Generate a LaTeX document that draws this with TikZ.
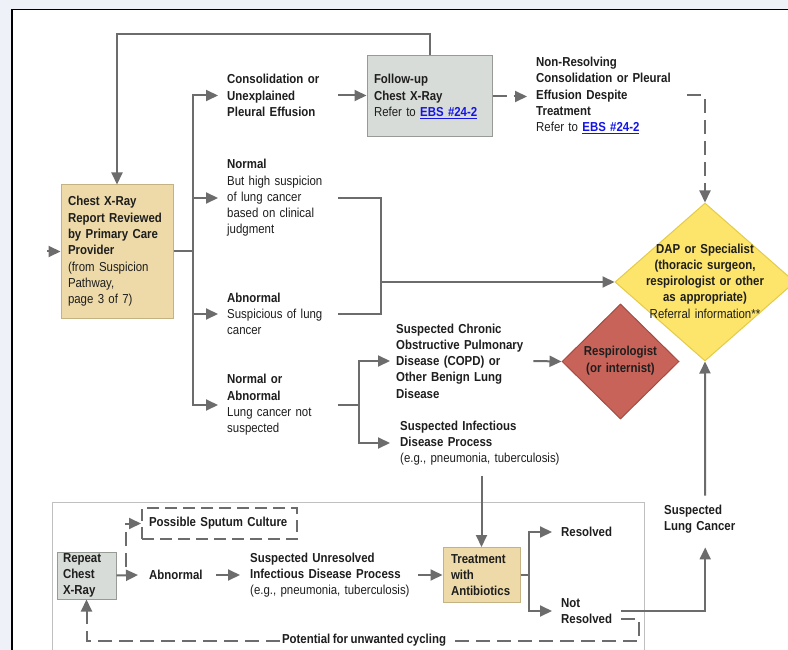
\documentclass[tikz,border=0pt]{standalone}
\usepackage{fontspec}
\setmainfont{Liberation Sans}[FakeStretch=0.88,WordSpace=0.8]
\usetikzlibrary{arrows.meta,shapes.geometric,calc}
\definecolor{bgc}{RGB}{238,242,248}
\definecolor{lc}{RGB}{108,108,108}
\definecolor{tc}{RGB}{30,30,30}
\definecolor{tanf}{RGB}{237,218,168}
\definecolor{tand}{RGB}{196,178,130}
\definecolor{grf}{RGB}{216,220,216}
\definecolor{grd}{RGB}{150,155,150}
\definecolor{yf}{RGB}{253,229,108}
\definecolor{yd}{RGB}{228,203,70}
\definecolor{rf}{RGB}{200,99,90}
\definecolor{rd}{RGB}{165,75,65}
\definecolor{linkc}{RGB}{20,20,230}
\definecolor{bxg}{RGB}{192,192,192}
\newcommand\ebslink[1]{\textcolor{linkc}{\underline{\textbf{#1}}}}
\begin{document}
\begin{tikzpicture}[x=1pt,y=-1pt,
  ln/.style={draw=lc, line width=2pt},
  arr/.style={ln, -{Triangle[length=12pt,width=11pt]}},
  dsh/.style={dash pattern=on 14pt off 7pt},
  txt/.style={font=\fontsize{13}{16.3}\selectfont, text=tc, align=left, inner sep=0pt, anchor=west},
  bx/.style={txt, anchor=center, line width=1pt, inner xsep=7pt, inner ysep=0pt},
  dia/.style={diamond, line width=1pt, inner sep=0pt}]
\useasboundingbox (0,0) rectangle (788,650);
\fill[bgc] (0,0) rectangle (788,650);
\fill[white] (12,9.5) rectangle (792,652);
\draw[black, line width=1.6pt] (12,652) -- (12,9.5) -- (792,9.5);
% bottom panel
\draw[bxg, line width=1pt] (52,660) -- (52,502) -- (644,502) -- (644,660);
% nodes
\node[bx, fill=tanf, draw=tand, minimum width=112, minimum height=133, text width=98] (chest) at (117,251.5)
  {\textbf{Chest X-Ray\\Report Reviewed\\by Primary Care\\Provider}\\(from Suspicion\\Pathway,\\page 3 of 7)};
\coordinate (entry) at (47,251.5);
\node[txt, text width=111] (cons) at (227,95.5) {\textbf{Consolidation or\\Unexplained\\Pleural Effusion}};
\node[txt, text width=111] (norm) at (227,198) {\textbf{Normal}\\But high suspicion\\of lung cancer\\based on clinical\\judgment};
\node[txt, text width=111] (abn) at (227,314) {\textbf{Abnormal}\\Suspicious of lung\\cancer};
\node[txt, text width=111] (normab) at (227,405) {\textbf{Normal or\\Abnormal}\\Lung cancer not\\suspected};
\node[bx, fill=grf, draw=grd, minimum width=125, minimum height=81, text width=111] (fu) at (429.5,96.5)
  {\textbf{Follow-up\\Chest X-Ray}\\Refer to \ebslink{EBS \#24-2}};
\node[txt, text width=151] (nonres) at (536,95.5)
  {\textbf{Non-Resolving\\Consolidation or Pleural\\Effusion Despite\\Treatment}\\Refer to \ebslink{EBS \#24-2}};
\node[dia, draw=yd, fill=yf, minimum width=180, minimum height=158] (dap) at (705,282) {};
\node[txt, anchor=center, align=center, text width=160] (daptxt) at (705,281)
  {\textbf{DAP or Specialist\\(thoracic surgeon,\\respirologist or other\\as appropriate)}\\Referral information**};
\node[dia, draw=rd, fill=rf, minimum width=117, minimum height=115] (resp) at (620.5,361.5) {};
\node[txt, anchor=center, align=center, text width=100] (resptxt) at (620.5,360.5) {\textbf{Respirologist\\(or internist)}};
\node[txt, text width=137] (copd) at (396,361) {\textbf{Suspected Chronic\\Obstructive Pulmonary\\Disease (COPD) or\\Other Benign Lung\\Disease}};
\node[txt, text width=165] (infect) at (400,443) {\textbf{Suspected Infectious\\Disease Process}\\(e.g., pneumonia, tuberculosis)};
\node[bx, fill=grf, draw=grd, minimum width=59, minimum height=47, text width=47, inner xsep=6pt] (rep) at (86.5,575.5) {\textbf{Repeat\\Chest\\X-Ray}};
\node[txt, text width=67] (abn2) at (149,575) {\textbf{Abnormal}};
\node[txt, text width=168] (susp) at (250,575) {\textbf{Suspected Unresolved\\Infectious Disease Process}\\(e.g., pneumonia, tuberculosis)};
\node[bx, fill=tanf, draw=tand, minimum width=77, minimum height=55, text width=61, inner xsep=8pt] (treat) at (481.5,575) {\textbf{Treatment\\with\\Antibiotics}};
\node[txt] (resolved) at (561,532) {\textbf{Resolved}};
\node[txt, text width=60] (notres) at (561,611) {\textbf{Not\\Resolved}};
\node[txt, text width=82] (lungc) at (664,519) {\textbf{Suspected\\Lung Cancer}};
\node[txt, anchor=center, draw=lc, line width=2pt, dash pattern=on 12pt off 6pt, minimum width=155, minimum height=31, text width=141, inner xsep=7pt] (sputum) at (219.5,523.5) {\textbf{Possible Sputum Culture}};
% connectors
\draw[arr] (entry) -- (chest.west);
\coordinate (bus) at (193,251.5);
\draw[ln] (chest.east) -- (bus);
\foreach \n in {cons,norm,abn,normab} \draw[arr] (bus) |- ([xshift=-9pt]\n.west);
\draw[arr] (fu.north) -- ++(0,-21) -| (chest.north);
\draw[arr] (cons.east) -- (cons.east -| fu.west);
\coordinate (mrg) at (381,282);
\draw[ln] (norm.east) -| (mrg);
\draw[ln] (abn.east) -| (mrg);
\draw[arr] (mrg) -- (dap.west);
\draw[arr, dsh] (fu.east) -- ([xshift=-9pt]fu.east -| nonres.west);
\draw[arr, dsh] (nonres.east) -| (dap.north);
\coordinate (br2) at (359,405);
\draw[ln] (normab.east) -- (br2);
\draw[arr] (br2) |- ([xshift=-6pt]copd.west);
\draw[arr] (br2) |- ([xshift=-10pt]infect.west);
\draw[arr] (copd.east) -- (resp.west);
\draw[arr] ($(infect.south -| treat.north)+(0,10)$) -- (treat.north);
\draw[arr] (rep.east) -- ([xshift=-11pt]abn2.west);
\draw[arr] (abn2.east) -- ([xshift=-10pt]susp.west);
\draw[arr] (susp.east) -- (treat.west);
\coordinate (br3) at (529,575);
\draw[ln] (treat.east) -- (br3);
\draw[arr] (br3) |- ([xshift=-9pt]resolved.west);
\draw[arr] (br3) |- ([xshift=-9pt]notres.west);
\draw[arr] (notres.east) -| ([yshift=-14pt]lungc.south);
\draw[arr] ([yshift=9pt]lungc.north) -- (dap.south);
\coordinate (sp0) at (126,567);
\draw[arr, dsh] (sp0) |- (sputum.west);
\coordinate (cy) at (639,641);
\draw[arr, dsh] ([yshift=-8pt]notres.east) -| (cy) -| (rep.south);
\node[txt, anchor=center, fill=white, inner xsep=2pt, inner ysep=2pt] (cyc) at (364,640) {\textbf{Potential for unwanted cycling}};
\end{tikzpicture}
\end{document}
